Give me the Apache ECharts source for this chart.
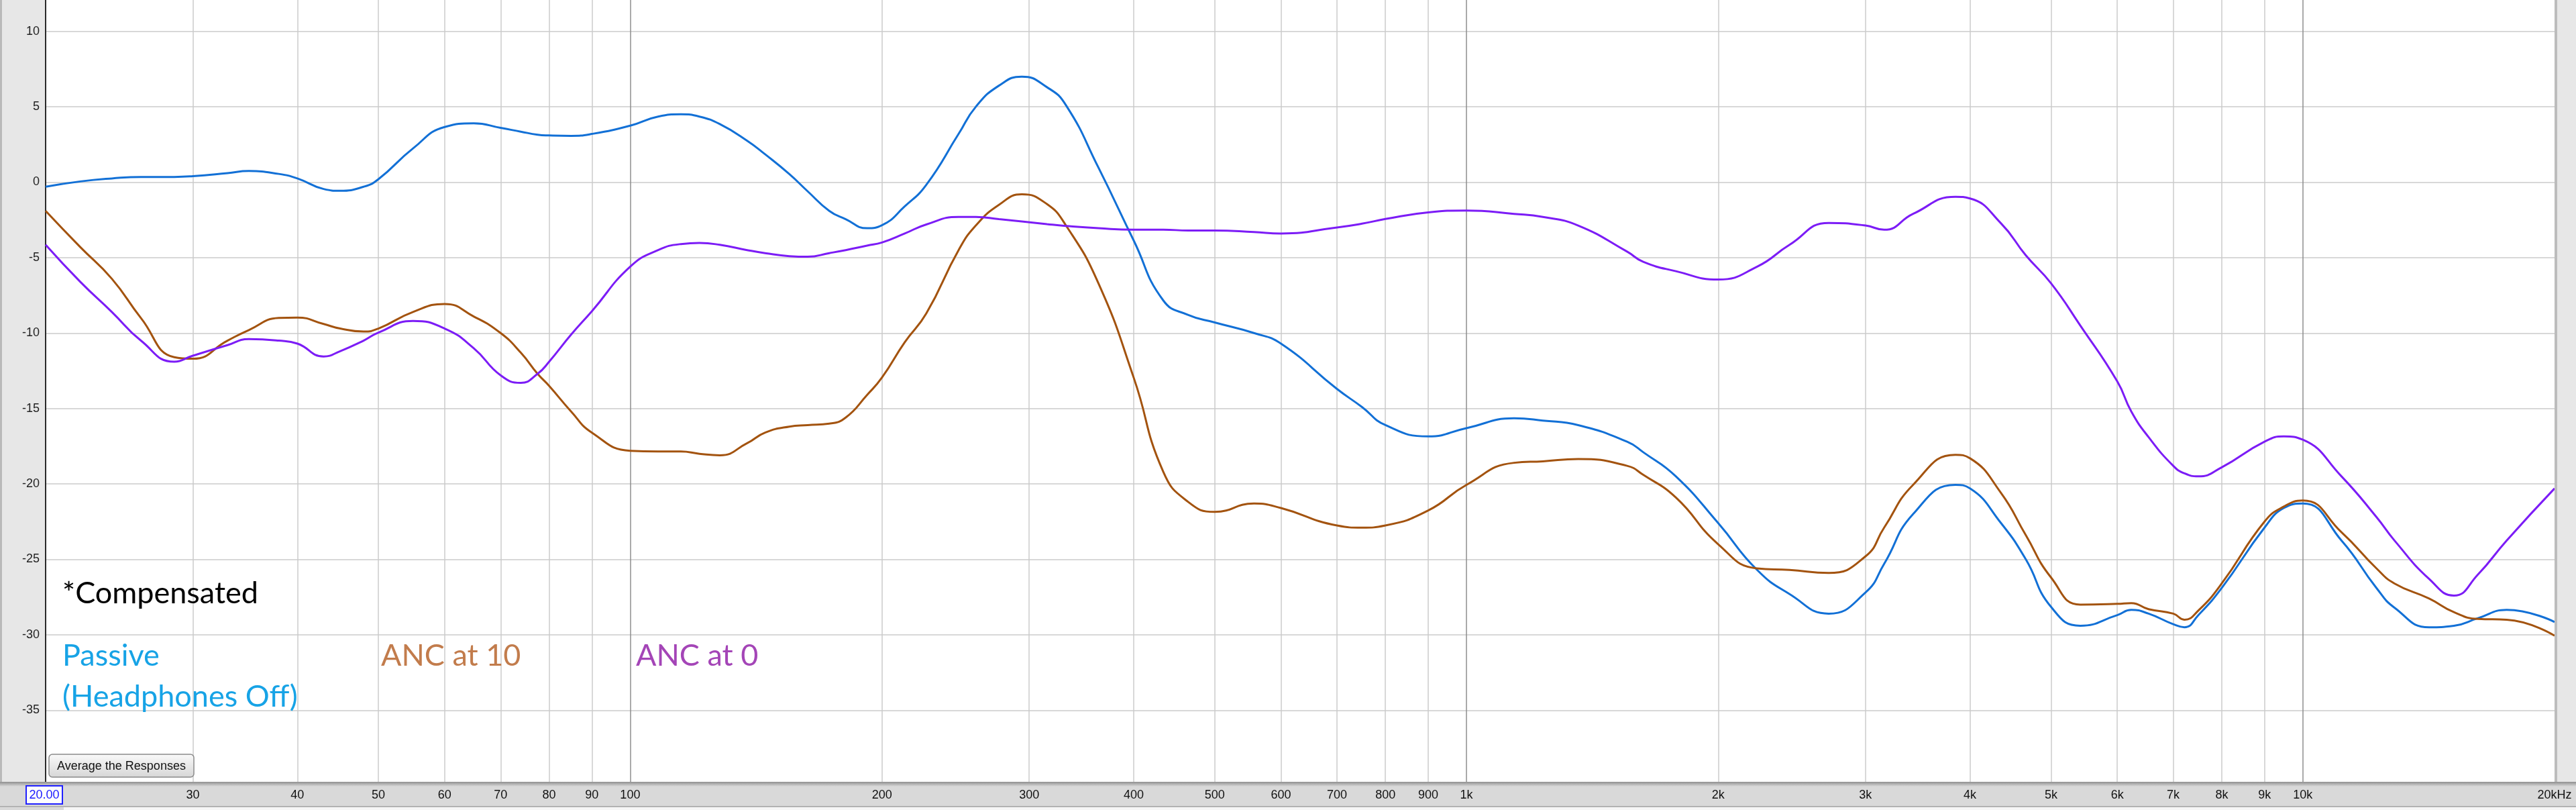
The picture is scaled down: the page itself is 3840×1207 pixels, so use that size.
<!DOCTYPE html>
<html>
<head>
<meta charset="utf-8">
<title>Frequency response - Passive vs ANC</title>
<script src="https://cdn.jsdelivr.net/npm/echarts@6.0.0/dist/echarts.min.js"></script>
<style>
  html, body { margin: 0; padding: 0; background: #e7e7e7; overflow: hidden; }
  /* the plot is cut at the top (about +12 dB), so the chart box starts above the window */
  #chart { position: absolute; left: 0; top: -66px; width: 3840px; height: 1273px; }
</style>
</head>
<body>
<div id="chart"></div>
<script>
// frequencies (Hz) shared by every curve
const freqs = [20, 22, 24, 26, 28.5, 30, 33, 35, 38, 40, 43, 45, 48, 50, 55, 60, 65, 70, 74, 77.5,
  80, 85, 90, 100, 108, 115, 121, 128, 138, 145, 155, 163, 173, 181, 192, 200, 213, 226, 247, 259,
  276, 294, 315, 332, 363, 400, 434, 465, 500, 557, 600, 700, 750, 800, 900, 1000, 1140, 1234, 1360, 1556,
  1627, 1780, 2000, 2226, 2434, 2711, 3000, 3158, 3420, 3843, 4000, 4357, 4665, 5000, 5420, 6000, 6237, 6541, 7000,
  7220, 7500, 8000, 9000, 9490, 10000, 11125, 12250, 12871, 14160, 15160, 16200, 17530, 20000];

// dB
const passive = [-0.3, 0.05, 0.25, 0.35, 0.35, 0.4, 0.6, 0.74, 0.55, 0.25, -0.45, -0.57, -0.3, 0.2, 2.24, 3.66, 3.9, 3.6, 3.35, 3.15,
  3.1, 3.07, 3.2, 3.75, 4.35, 4.5, 4.35, 3.85, 2.75, 1.85, 0.54, -0.6, -1.9, -2.45, -3.05, -2.85, -1.6, -0.17, 3.2, 5.0,
  6.4, 7.0, 6.3, 5.1, 0.97, -3.86, -7.84, -8.8, -9.3, -10.0, -10.7, -13.7, -14.9, -16.1, -16.85, -16.3, -15.65, -15.8, -16.1, -17.2,
  -17.9, -19.5, -22.6, -25.7, -27.3, -28.6, -27.2, -25.3, -22.0, -20.06, -20.3, -22.6, -25.0, -28.15, -29.4, -28.7, -28.35, -28.6, -29.3,
  -29.5, -28.7, -26.9, -22.9, -21.6, -21.3, -23.75, -26.9, -28.2, -29.5, -29.4, -28.9, -28.35, -29.15];

const anc10 = [-1.9, -4.3, -6.4, -9.0, -11.6, -11.7, -10.5, -9.8, -9.0, -8.97, -9.4, -9.7, -9.9, -9.7, -8.6, -8.07, -8.9, -10.0, -11.3, -12.7,
  -13.5, -15.2, -16.6, -17.8, -17.85, -17.85, -18.0, -18.1, -17.3, -16.6, -16.2, -16.1, -16.0, -15.6, -14.1, -12.95, -10.6, -8.7, -4.5, -2.87,
  -1.5, -0.8, -1.45, -2.87, -6.7, -12.95, -19.2, -21.2, -21.85, -21.3, -21.6, -22.75, -22.9, -22.75, -21.76, -20.06, -18.6, -18.5, -18.35, -18.8,
  -19.4, -20.9, -24.0, -25.6, -25.7, -25.9, -24.8, -22.9, -20.06, -18.07, -18.3, -20.6, -23.4, -26.2, -28.0, -27.95, -27.9, -28.3, -28.6,
  -29.0, -28.4, -26.6, -22.5, -21.5, -21.1, -23.2, -25.6, -26.6, -27.6, -28.5, -28.95, -29.0, -30.06];

const anc0 = [-4.15, -6.6, -8.6, -10.5, -11.9, -11.5, -10.8, -10.4, -10.5, -10.7, -11.55, -11.2, -10.5, -9.97, -9.2, -9.7, -11.0, -12.8, -13.3, -12.7,
  -11.9, -10.1, -8.55, -5.6, -4.5, -4.1, -4.03, -4.15, -4.5, -4.7, -4.9, -4.94, -4.7, -4.5, -4.2, -4.0, -3.4, -2.8, -2.3, -2.3,
  -2.45, -2.6, -2.78, -2.9, -3.05, -3.15, -3.15, -3.2, -3.2, -3.3, -3.4, -3.0, -2.75, -2.44, -2.0, -1.88, -2.1, -2.3, -2.87, -4.6,
  -5.28, -5.9, -6.45, -5.6, -4.15, -2.7, -2.87, -3.15, -2.1, -0.97, -1.08, -2.73, -4.85, -6.7, -9.5, -13.2, -15.2, -16.9, -18.8,
  -19.3, -19.5, -18.9, -17.2, -16.85, -17.07, -19.5, -22.2, -23.75, -26.3, -27.4, -26.0, -23.75, -20.3];

// x axis grid lines and their labels
const tickFreqs = [30, 40, 50, 60, 70, 80, 90, 100, 200, 300, 400, 500, 600, 700, 800, 900, 1000,
  2000, 3000, 4000, 5000, 6000, 7000, 8000, 9000, 10000, 20000];
const tickLabels = ['30', '40', '50', '60', '70', '80', '90', '100', '200', '300', '400', '500', '600', '700', '800', '900', '1k',
  '2k', '3k', '4k', '5k', '6k', '7k', '8k', '9k', '10k', '20kHz'];
const decadeFreqs = [100, 1000, 10000];

const toPairs = vals => freqs.map((f, i) => [f, vals[i]]);

const chart = echarts.init(document.getElementById('chart'));
const labelFont = "'Liberation Sans', Arial, sans-serif";
const noteFont = "Lato, 'Open Sans', sans-serif";
const SHIFT = 66; // chart box offset above the window

const curve = (name, vals, color) => ({
  name,
  type: 'line',
  data: toPairs(vals),
  smooth: 0.5,
  showSymbol: false,
  z: 5,
  lineStyle: { color, width: 3 },
});

const note = (text, x, y, color) => ({
  type: 'text', z: 30, x, y,
  style: { text, fill: color, fontSize: 45, fontFamily: noteFont, verticalAlign: 'middle' },
});

chart.setOption({
  animation: false,
  backgroundColor: '#e7e7e7',
  grid: {
    left: 68, right: 32, top: 0.3, bottom: 36.3,
    show: true, backgroundColor: '#fff', borderWidth: 0,
  },
  xAxis: {
    type: 'log', logBase: 10, min: 20, max: 20000,
    axisLine: { show: false },
    axisTick: { show: false },
    axisLabel: { show: false },
    splitLine: { show: false },
  },
  yAxis: {
    type: 'value', min: -40, max: 15, interval: 5,
    axisLine: { show: true, lineStyle: { color: '#2a2a2a', width: 2 } },
    axisTick: { show: false },
    axisLabel: {
      fontSize: 18, color: '#222', margin: 9, fontFamily: labelFont,
      formatter: v => (v === 15 || v === -40) ? '' : String(v),
    },
    splitLine: { lineStyle: { color: '#cbcbcb', width: 1.5 } },
  },
  series: [
    {
      // vertical grid lines
      type: 'line', data: [], clip: false, silent: true, z: 1,
      markLine: {
        silent: true, symbol: 'none', z: 1, animation: false,
        label: { show: false },
        data: tickFreqs.filter(f => f < 20000).map(f => ({
          xAxis: f,
          lineStyle: { type: 'solid', width: 1.5, color: decadeFreqs.includes(f) ? '#8e8e8e' : '#cbcbcb' },
        })),
      },
    },
    {
      // x axis labels under the plot
      type: 'line', data: [], clip: false, silent: true, z: 60,
      markLine: {
        silent: true, symbol: 'none', z: 60, animation: false,
        lineStyle: { color: 'rgba(0,0,0,0)', width: 1 },
        label: {
          show: true, position: 'start', distance: 5, formatter: '{b}',
          fontSize: 18, color: '#111', fontFamily: labelFont,
        },
        data: tickFreqs.map((f, i) => ({ xAxis: f, name: tickLabels[i] })),
      },
    },
    curve('Passive (Headphones Off)', passive, '#1270d6'),
    curve('ANC at 10', anc10, '#a3530f'),
    curve('ANC at 0', anc0, '#7c1cf6'),
  ],
  graphic: [{
    type: 'group', x: 0, y: SHIFT,
    children: [
      // frame pieces around the plot
      { type: 'rect', z: 50, shape: { x: 0, y: 1165, width: 3840, height: 42 }, style: { fill: '#d9d9d9' } },
      {
        type: 'rect', z: 51, shape: { x: 0, y: 1165, width: 3840, height: 7 },
        style: { fill: new echarts.graphic.LinearGradient(0, 0, 0, 1, [
          { offset: 0, color: '#8f8f8f' }, { offset: 1, color: '#d9d9d9' }]) },
      },
      { type: 'rect', z: 51, shape: { x: 0, y: 1201, width: 3840, height: 1.5 }, style: { fill: '#a8a8a8' } },
      { type: 'rect', z: 51, shape: { x: 95, y: 1203, width: 3745, height: 4 }, style: { fill: '#f6f6f6' } },
      { type: 'rect', z: 50, shape: { x: 3808, y: -SHIFT, width: 4, height: 1165 + SHIFT }, style: { fill: '#bcbcbc' } },
      { type: 'rect', z: 50, shape: { x: 0, y: -SHIFT, width: 3, height: 1165 + SHIFT }, style: { fill: '#b9b9b9' } },
      // start frequency box
      {
        type: 'rect', z: 61, shape: { x: 39, y: 1171, width: 54, height: 27 },
        style: { fill: '#fdfdfd', stroke: '#2020ff', lineWidth: 2 },
      },
      {
        type: 'text', z: 62, x: 66, y: 1185,
        style: { text: '20.00', fill: '#1a1aff', fontSize: 18, fontFamily: labelFont, align: 'center', verticalAlign: 'middle' },
      },
      // button
      {
        type: 'rect', z: 40, shape: { x: 73, y: 1124, width: 216, height: 34, r: 5 },
        style: {
          fill: new echarts.graphic.LinearGradient(0, 0, 0, 1, [
            { offset: 0, color: '#fafafa' }, { offset: 1, color: '#d6d6d6' }]),
          stroke: '#8a8a8a', lineWidth: 1.5,
        },
      },
      {
        type: 'text', z: 41, x: 181, y: 1142,
        style: { text: 'Average the Responses', fill: '#111', fontSize: 18, fontFamily: labelFont, align: 'center', verticalAlign: 'middle' },
      },
      // notes
      note('*Compensated', 93, 884, '#000'),
      note('Passive', 93, 977, '#17a3e6'),
      note('(Headphones Off)', 93, 1038, '#17a3e6'),
      note('ANC at 10', 568, 977, '#c27c4c'),
      note('ANC at 0', 948, 977, '#a445b7'),
    ],
  }],
});
</script>
</body>
</html>
